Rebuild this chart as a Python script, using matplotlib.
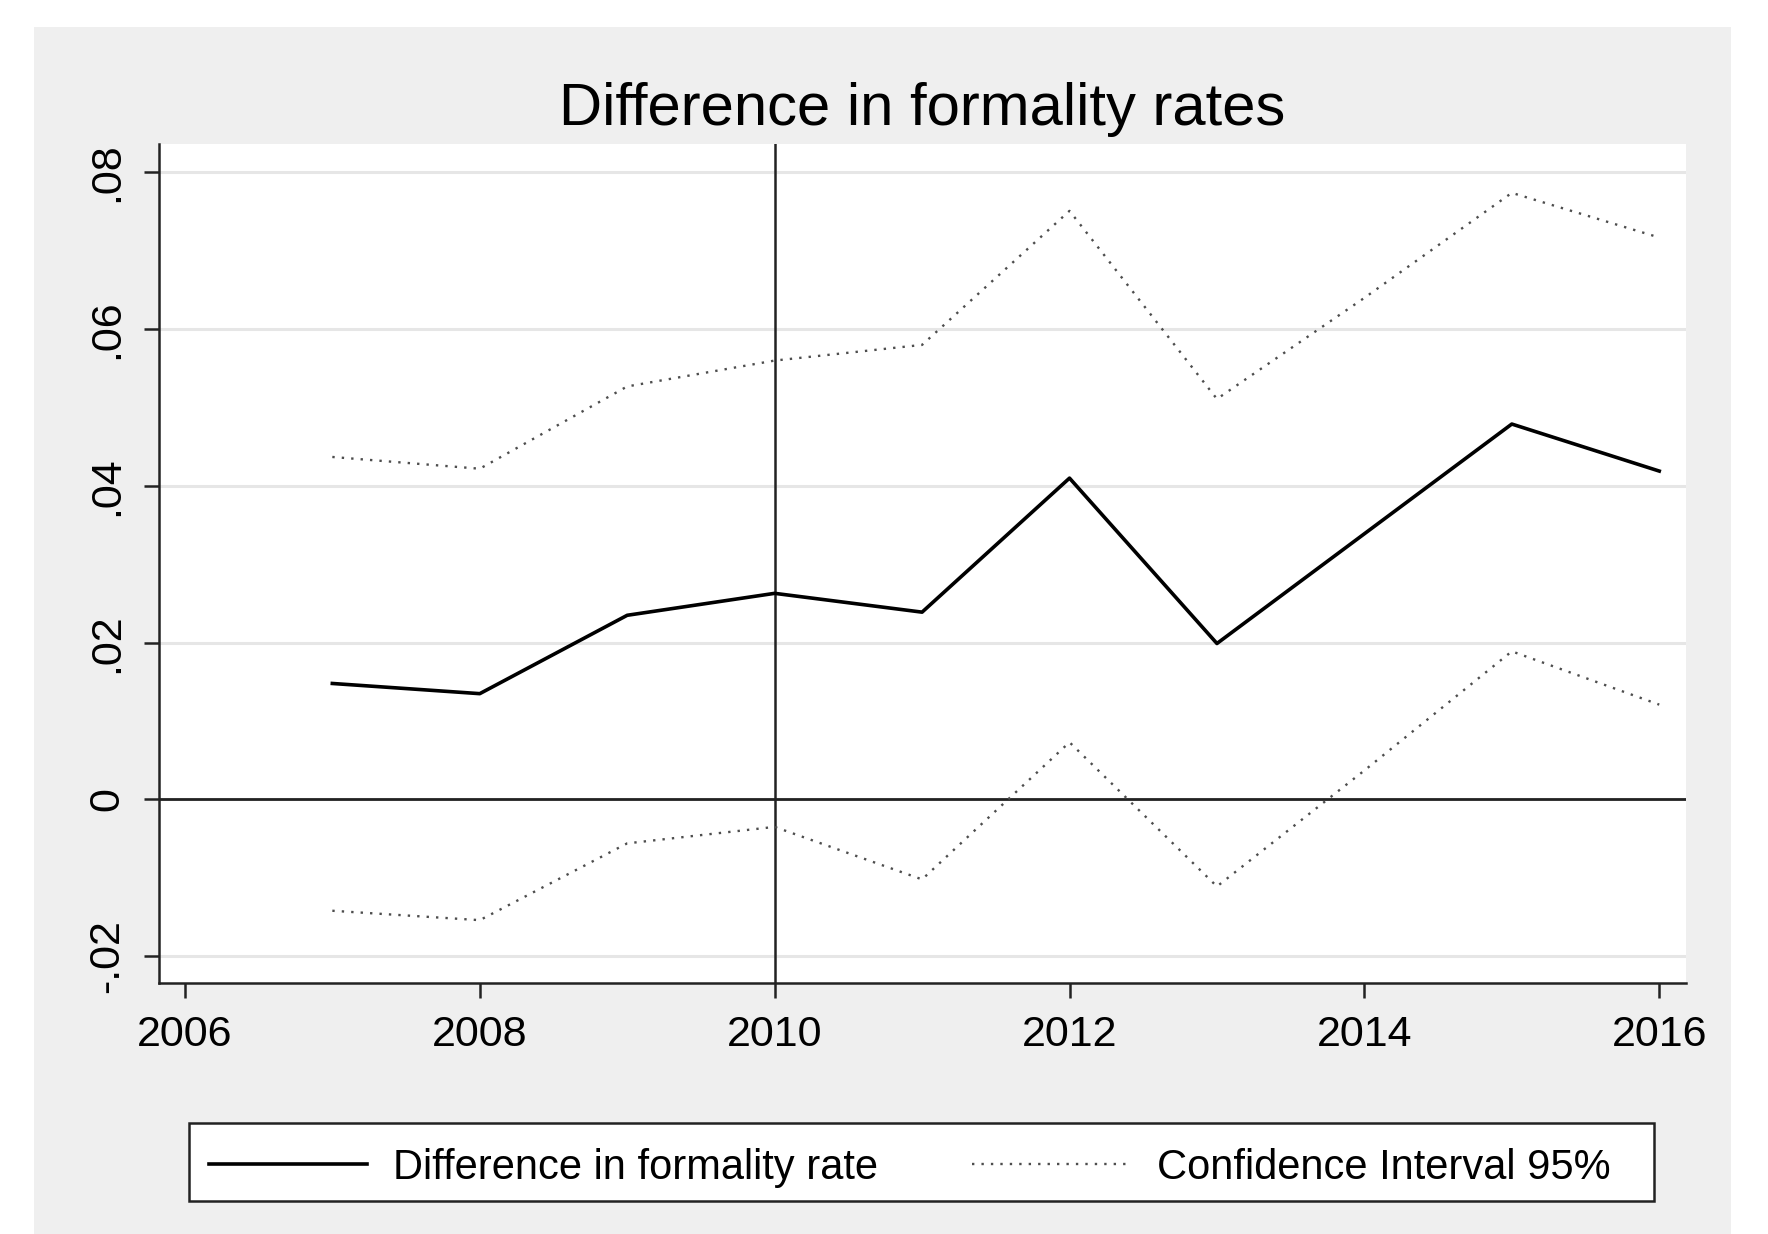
import matplotlib
matplotlib.use("Agg")
import matplotlib.pyplot as plt
from matplotlib.patches import Rectangle

plt.rcParams['font.family'] = ['Liberation Sans', 'DejaVu Sans']

years = [2007, 2008, 2009, 2010, 2011, 2012, 2013, 2014, 2015, 2016]
diff_rate = [0.0148, 0.0135, 0.0235, 0.0263, 0.0239, 0.0410, 0.0199, 0.0339, 0.0479, 0.0419]
ci_upper = [0.0437, 0.0422, 0.0527, 0.0560, 0.0580, 0.0751, 0.0511, 0.0640, 0.0774, 0.0717]
ci_lower = [-0.0142, -0.0154, -0.0056, -0.0035, -0.0102, 0.0073, -0.0111, 0.0037, 0.0189, 0.0121]

x_ticks = [2006, 2008, 2010, 2012, 2014, 2016]
y_ticks = [-0.02, 0, 0.02, 0.04, 0.06, 0.08]
y_tick_labels = ['-.02', '0', '.02', '.04', '.06', '.08']

fig = plt.figure(figsize=(17.68, 12.34), dpi=100, facecolor='white')
# grey graph region behind everything
fig.patches.append(Rectangle((0.0192, 0.0), 0.9599, 0.978, transform=fig.transFigure,
                             facecolor='#efefef', edgecolor='none', zorder=-10))

ax = fig.add_axes([0.0899, 0.2032, 0.8636, 0.6799])
ax.set_facecolor('white')

for y in y_ticks:
    ax.axhline(y, color='#e6e6e6', lw=2.2, zorder=1)
ax.axhline(0, color='#222222', lw=2.0, zorder=2)
ax.axvline(2010, color='#222222', lw=1.8, zorder=2)

ax.plot(years, diff_rate, color='black', lw=2.6, zorder=4,
        label='Difference in formality rate')
ax.plot(years, ci_upper, color='#4d4d4d', lw=1.7, ls=(0, (1, 3)), zorder=3,
        label='Confidence Interval 95%')
ax.plot(years, ci_lower, color='#4d4d4d', lw=1.7, ls=(0, (1, 3)), zorder=3)

ax.set_xlim(2005.824, 2016.18)
ax.set_ylim(-0.02345, 0.0836)
ax.set_xticks(x_ticks)
ax.set_yticks(y_ticks)
ax.set_yticklabels(y_tick_labels, rotation=90, va='center')
ax.tick_params(axis='both', labelsize=31, length=11, width=1.8, color='#222222', pad=12)

for side in ['top', 'right']:
    ax.spines[side].set_visible(False)
for side in ['left', 'bottom']:
    ax.spines[side].set_linewidth(1.8)
    ax.spines[side].set_color('#222222')

fig.text(0.5216, 0.911, 'Difference in formality rates', ha='center', va='center', fontsize=43)

# legend box drawn separately so the entries can sit off-centre inside it
fig.patches.append(Rectangle((0.1071, 0.0267), 0.8285, 0.0632, transform=fig.transFigure,
                             facecolor='white', edgecolor='#222222', lw=1.8, zorder=1))
leg = fig.legend(loc='center left', bbox_to_anchor=(0.118, 0.0535), ncol=2,
                 borderaxespad=0, borderpad=0, fontsize=30, handlelength=3.8,
                 handletextpad=0.62, columnspacing=2.27, frameon=False)
leg.set_zorder(2)

fig.savefig('out.png', dpi=100, facecolor='white')
